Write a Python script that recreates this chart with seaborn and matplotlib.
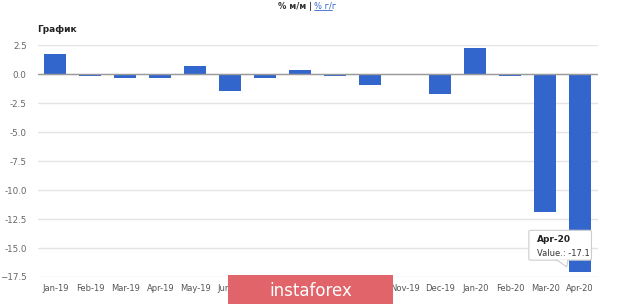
import matplotlib
matplotlib.use("Agg")
import matplotlib.pyplot as plt
import seaborn as sns
import pandas as pd
from matplotlib.patches import FancyBboxPatch, Rectangle, Polygon

months = ["Jan-19", "Feb-19", "Mar-19", "Apr-19", "May-19", "Jun-19", "Jul-19", "Aug-19",
          "Sep-19", "Oct-19", "Nov-19", "Dec-19", "Jan-20", "Feb-20", "Mar-20", "Apr-20"]
values = [1.8, -0.1, -0.35, -0.35, 0.75, -1.4, -0.35, 0.35,
          -0.1, -0.9, 0.0, -1.7, 2.25, -0.1, -11.9, -17.1]
yticks = [2.5, 0.0, -2.5, -5.0, -7.5, -10.0, -12.5, -15.0, -17.5]
ytick_labels = ["2.5", "0.0", "-2.5", "-5.0", "-7.5", "-10.0", "-12.5", "-15.0", "\u221217.5"]

df = pd.DataFrame({"month": months, "value": values})

sns.set_theme(style="white")
plt.rcParams["font.family"] = ["DejaVu Sans"]

fig = plt.figure(figsize=(6.2, 3.05), dpi=100)
ax = fig.add_axes([0.061, 0.092, 0.903, 0.759])

sns.barplot(data=df, x="month", y="value", color="#3366cc", saturation=1,
            width=0.62, linewidth=0, ax=ax, zorder=3)

ax.set_ylim(-17.5, 2.5)
ax.set_xlim(-0.5, 15.5)
ax.set_yticks(yticks)
ax.set_yticklabels(ytick_labels)
ax.yaxis.grid(True, color="#e4e4e4", linewidth=1, zorder=0)
ax.axhline(0, color="#9a9a9a", linewidth=1, zorder=4)
ax.set_xlabel("")
ax.set_ylabel("")
for s in ax.spines.values():
    s.set_visible(False)
ax.tick_params(axis="x", length=0, labelsize=6, labelcolor="#555555", pad=5)
ax.tick_params(axis="y", length=0, labelsize=6.3, labelcolor="#666666", pad=8)

# title and header texts
fig.text(0.060, 0.895, "График", fontsize=6.5, fontweight="bold", color="#222222")
fig.text(0.503, 0.972, "% м/м |", fontsize=6, fontweight="bold", color="#333333", ha="right")
fig.text(0.507, 0.972, "% г/г", fontsize=6, color="#3366cc", ha="left")
fig.add_artist(plt.Line2D([0.507, 0.536], [0.967, 0.967], transform=fig.transFigure,
                          color="#3366cc", linewidth=0.6))

# tooltip
tip = FancyBboxPatch((0.853, 0.147), 0.101, 0.098, boxstyle="round,pad=0.0,rounding_size=0.004",
                     transform=fig.transFigure, facecolor="white", edgecolor="#cccccc",
                     linewidth=0.8, zorder=10)
fig.patches.append(tip)
tail = Polygon([[0.898, 0.149], [0.916, 0.149], [0.914, 0.125]], closed=True,
               transform=fig.transFigure, facecolor="white", edgecolor="none", zorder=11)
fig.patches.append(tail)
fig.add_artist(plt.Line2D([0.898, 0.914, 0.916], [0.148, 0.125, 0.148],
                          transform=fig.transFigure, color="#cccccc", linewidth=0.8, zorder=12))
fig.text(0.866, 0.205, "Apr-20", fontsize=6.5, fontweight="bold", color="#222222", zorder=12)
fig.text(0.866, 0.160, "Value.: -17.1", fontsize=6, color="#333333", zorder=12)

# watermark
wm = Rectangle((0.368, 0.003), 0.266, 0.095, transform=fig.transFigure,
               facecolor="#e06469", edgecolor="none", zorder=20)
fig.patches.append(wm)
fig.text(0.501, 0.045, "instaforex", fontsize=12, color="white", ha="center", va="center",
         zorder=21)

fig.savefig("out.png", dpi=100)
